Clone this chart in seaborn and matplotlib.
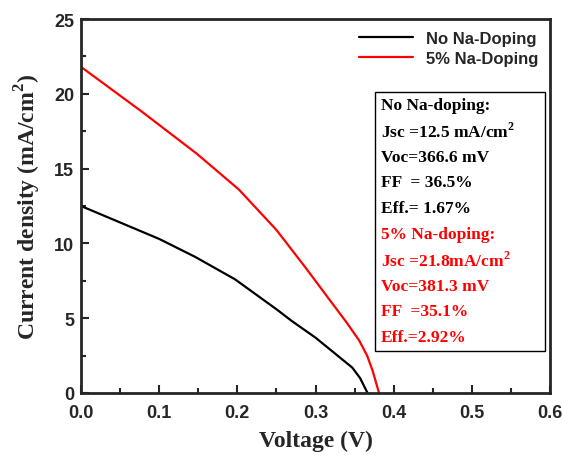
import matplotlib
matplotlib.use('Agg')

import numpy as np
import pandas as pd
import matplotlib.pyplot as plt
from matplotlib.ticker import MultipleLocator
import seaborn as sns

# J-V curves
v_undoped = [0.0, 0.05, 0.10, 0.146, 0.197, 0.25, 0.27, 0.30, 0.347, 0.357, 0.3666]
j_undoped = [12.5, 11.4, 10.3, 9.1, 7.6, 5.6, 4.8, 3.7, 1.7, 1.0, 0.0]
v_doped = [0.0, 0.078, 0.148, 0.202, 0.25, 0.287, 0.317, 0.34, 0.356, 0.366, 0.373, 0.3813]
j_doped = [21.8, 18.8, 16.0, 13.6, 10.9, 8.4, 6.3, 4.7, 3.5, 2.5, 1.5, 0.0]

labels = ['No Na-Doping', '5% Na-Doping']
colors = ['black', 'red']

box_black = ['No Na-doping:', 'Jsc =12.5 mA/cm$^{\\mathbf{2}}$', 'Voc=366.6 mV',
             'FF  = 36.5%', 'Eff.= 1.67%']
box_red = ['5% Na-doping:', 'Jsc =21.8mA/cm$^{\\mathbf{2}}$', 'Voc=381.3 mV',
           'FF  =35.1%', 'Eff.=2.92%']

df = pd.concat([
    pd.DataFrame({'V': v_undoped, 'J': j_undoped, 'sample': labels[0]}),
    pd.DataFrame({'V': v_doped, 'J': j_doped, 'sample': labels[1]}),
])

sns.set_style('ticks')
plt.rcParams['font.family'] = ['Liberation Sans', 'DejaVu Sans']
plt.rcParams['font.weight'] = 'bold'
plt.rcParams['mathtext.fontset'] = 'custom'
plt.rcParams['mathtext.rm'] = 'Liberation Serif:bold'
plt.rcParams['mathtext.bf'] = 'Liberation Serif:bold'

fig = plt.figure(figsize=(5.62, 4.6), dpi=100)
ax = fig.add_axes([81 / 562, 1 - 394 / 460, 469 / 562, 374 / 460])

sns.lineplot(data=df, x='V', y='J', hue='sample', palette=colors, sort=False,
             linewidth=1.6, ax=ax, estimator=None)

ax.set_xlim(0, 0.6)
ax.set_ylim(0, 25)
ax.xaxis.set_major_locator(MultipleLocator(0.1))
ax.xaxis.set_minor_locator(MultipleLocator(0.05))
ax.yaxis.set_major_locator(MultipleLocator(5))
ax.yaxis.set_minor_locator(MultipleLocator(2.5))
ax.xaxis.set_major_formatter(matplotlib.ticker.FormatStrFormatter('%.1f'))
ax.tick_params(which='both', direction='in', width=1.5, top=False, right=False)
ax.tick_params(which='major', length=6, labelsize=13)
ax.tick_params(which='minor', length=3.5)
ax.tick_params(axis='x', pad=8)
ax.tick_params(axis='y', pad=5)
for sp in ax.spines.values():
    sp.set_linewidth(2)

ax.set_xlabel('Voltage (V)', family='Liberation Serif', fontweight='bold',
              fontsize=17, labelpad=6)
ax.set_ylabel('Current density (mA/cm$^{\\mathbf{2}}$)', family='Liberation Serif',
              fontweight='bold', fontsize=17, labelpad=8)

leg = ax.legend(loc='upper right', frameon=False, fontsize=12, handlelength=3.2,
                borderaxespad=0.3, labelspacing=0.3)
for line in leg.get_lines():
    line.set_linewidth(1.6)

# parameters box
ax.add_patch(plt.Rectangle(((375 - 81) / 469, 1 - (352 - 20) / 374),
                           (545 - 375) / 469, (352 - 93) / 374,
                           transform=ax.transAxes, fill=False, lw=1, ec='black'))
rows = box_black + box_red
row_colors = ['black'] * len(box_black) + ['red'] * len(box_red)
for i, (txt, c) in enumerate(zip(rows, row_colors)):
    ax.text((381 - 81) / 469, 1 - (106 + i * 25.8 - 20) / 374, txt, color=c,
            transform=ax.transAxes, family='Liberation Serif', fontweight='bold',
            fontsize=12.5, va='center', ha='left')

fig.savefig('out.png', dpi=100)
